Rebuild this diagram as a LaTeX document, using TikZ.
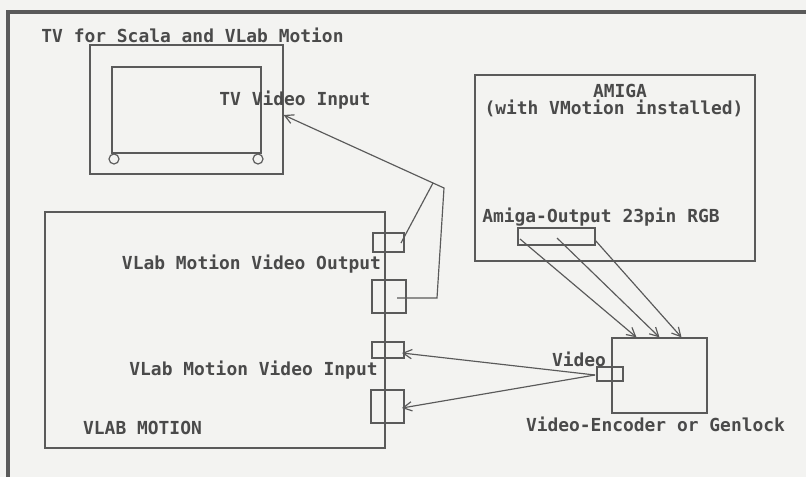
\documentclass[tikz,border=0pt]{standalone}
\usepackage{fontspec}
\setmainfont{DejaVu Sans Mono}
\usepackage{tikz}
\usetikzlibrary{calc,arrows.meta,positioning}
\definecolor{paper}{HTML}{F3F3F1}
\definecolor{ink}{HTML}{5A5A5A}
\definecolor{txt}{HTML}{4A4A4A}
\tikzset{
  box/.style={draw=ink,line width=1.1pt,minimum width=#1},
  wire/.style={draw=ink,line width=1.0pt},
  tip/.style={-{Straight Barb[length=2.6mm,width=2.8mm]}},
  lbl/.style={text=txt,inner sep=0pt,font=\fontsize{15.3}{17}\selectfont\bfseries}
}

\begin{document}
\begin{tikzpicture}[x=0.03cm,y=-0.03cm]

	%% page and frame
	\fill[paper] (0,0) rectangle (806,477);
	\useasboundingbox (0,0) rectangle (806,477);
	\draw[ink,line width=2.6pt] (806,12) -- (8,12) -- (8,477);

	%% TV
	\node[box=193*0.03cm,minimum height=129*0.03cm] (tv) at (186.5,109.5) {};
	\node[box=149*0.03cm,minimum height=86*0.03cm] (screen) at (186.5,110) {};
	\draw[ink,line width=1pt] (114,159) circle (5);
	\draw[ink,line width=1pt] (258,159) circle (5);
	\node[lbl] (tvtitle) at (192.5,35) {TV for Scala and VLab Motion};
	\node[lbl] (tvinput) at (295,100) {TV Video Input};

	%% VLab Motion card
	\node[box=340*0.03cm,minimum height=236*0.03cm] (vlab) at (215,330) {};
	\node[box=31*0.03cm,minimum height=19*0.03cm] (out1) at (388.5,242.5) {};
	\node[box=34*0.03cm,minimum height=33*0.03cm] (out2) at (389,296.5) {};
	\node[box=32*0.03cm,minimum height=16*0.03cm] (in1) at (388,350) {};
	\node[box=33*0.03cm,minimum height=33*0.03cm] (in2) at (387.5,406.5) {};
	\node[lbl] (vlout) at (251.5,264) {VLab Motion Video Output};
	\node[lbl] (vlin) at (253.5,370) {VLab Motion Video Input};
	\node[lbl] (vlname) at (142.5,428) {VLAB MOTION};

	%% Amiga
	\node[box=280*0.03cm,minimum height=186*0.03cm] (amiga) at (615,168) {};
	\node[box=77*0.03cm,minimum height=17*0.03cm] (rgb) at (556.5,236.5) {};
	\node[lbl] (amname) at (620,91) {AMIGA};
	\node[lbl] (amsub) at (614,108) {(with VMotion installed)};
	\node[lbl] (amout) at (601,217) {Amiga-Output 23pin RGB};

	%% encoder
	\node[box=95*0.03cm,minimum height=75*0.03cm] (enc) at (659.5,375.5) {};
	\node[box=26*0.03cm,minimum height=14*0.03cm] (vport) at (610,374) {};
	\node[lbl] (vidlbl) at (579,359) {Video};
	\node[lbl] (encname) at (655.5,424) {Video-Encoder or Genlock};

	%% connector points
	\coordinate (tvin) at ($(tv.east)+(0,5.5)$);
	\coordinate (J1) at (433,183);
	\coordinate (J2) at (444,188);
	\coordinate (K2) at (437,298);
	\coordinate (o1) at (401,243);
	\coordinate (o2) at (397,298);
	\coordinate (i1) at (402,353);
	\coordinate (i2) at (402,408);
	\coordinate (vp) at (595,375);
	\coordinate (r1) at (520,239);
	\coordinate (r2) at (557,238);
	\coordinate (r3) at (595,240);

	%% video out to TV
	\draw[wire,tip] (o2) -- (K2) -- (J2) -- (J1) -- (tvin);
	\draw[wire] (o1) -- (J1);

	%% RGB to encoder
	\draw[wire,tip] (r1) -- ($(enc.north)+(-23,0)$);
	\draw[wire,tip] (r2) -- (enc.north);
	\draw[wire,tip] (r3) -- ($(enc.north)+(22,0)$);

	%% encoder back to VLab
	\draw[wire,tip] (vp) -- (i1);
	\draw[wire,tip] (vp) -- (i2);

\end{tikzpicture}
\end{document}
